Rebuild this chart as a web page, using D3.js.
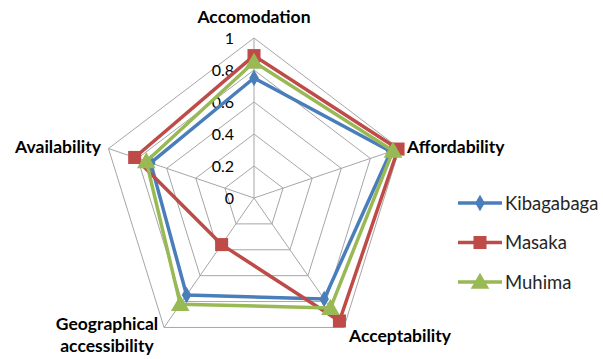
<!DOCTYPE html>
<html>
<head>
<meta charset="utf-8">
<script src="https://cdn.jsdelivr.net/npm/d3@7"></script>
<style>
  body { margin: 0; background: #fff; }
  svg text { font-family: Lato, "Open Sans", sans-serif; }
</style>
</head>
<body>
<svg width="603" height="359"></svg>
<script>
var axes = ["Accomodation", "Affordability", "Acceptability", "Geographical accessibility", "Availability"];
var seriesNames = ["Kibagabaga", "Masaka", "Muhima"];
var kibagabaga = [0.75, 0.94, 0.78, 0.75, 0.71];
var masaka = [0.89, 0.99, 0.95, 0.36, 0.82];
var muhima = [0.85, 0.955, 0.85, 0.82, 0.74];
var ticks = [0, 0.2, 0.4, 0.6, 0.8, 1];

var colors = ["#4a7ebb", "#be4b48", "#98b954"];
var shapes = [d3.symbolDiamond, d3.symbolSquare, d3.symbolTriangle];
var sizes = [80, 170, 150];

var svg = d3.select("svg"),
    cx = 254, cy = 198,
    rx = 153, ry = 160;

var r = d3.scaleLinear().domain([0, 1]).range([0, 1]);
var n = axes.length;

function pt(i, v) {
  var a = -Math.PI / 2 + i * 2 * Math.PI / n;
  return [cx + Math.cos(a) * rx * r(v), cy + Math.sin(a) * ry * r(v)];
}

var line = d3.line().curve(d3.curveLinearClosed);

// grid
var grid = svg.append("g");
ticks.slice(1).forEach(function(t) {
  grid.append("path")
    .attr("d", line(d3.range(n).map(function(i) { return pt(i, t); })))
    .attr("fill", "none")
    .attr("stroke", "#a6a6a6")
    .attr("stroke-width", 1);
});
d3.range(n).forEach(function(i) {
  var p = pt(i, 1);
  grid.append("line")
    .attr("x1", cx).attr("y1", cy)
    .attr("x2", p[0]).attr("y2", p[1])
    .attr("stroke", "#a6a6a6")
    .attr("stroke-width", 1);
});

// tick labels
svg.append("g").selectAll("text")
  .data(ticks)
  .join("text")
  .attr("x", 234)
  .attr("y", function(d) { return pt(0, d)[1] + 6; })
  .attr("text-anchor", "end")
  .attr("font-size", 16)
  .attr("fill", "#000")
  .text(function(d) { return d; });

// series
var all = [kibagabaga, masaka, muhima];
all.forEach(function(vals, s) {
  var pts = vals.map(function(v, i) { return pt(i, v); });
  var g = svg.append("g");
  g.append("path")
    .attr("d", line(pts))
    .attr("fill", "none")
    .attr("stroke", colors[s])
    .attr("stroke-width", 3.5)
    .attr("stroke-linejoin", "round");
  g.selectAll("path.m")
    .data(pts)
    .join("path")
    .attr("class", "m")
    .attr("transform", function(d) { return "translate(" + d[0] + "," + (d[1] + (s === 2 ? 1.5 : 0)) + ")"; })
    .attr("d", d3.symbol().type(shapes[s]).size(sizes[s]))
    .attr("fill", colors[s]);
});

// axis labels
var lab = svg.append("g")
  .attr("font-size", 17.5)
  .attr("font-weight", "bold")
  .attr("fill", "#000");
lab.append("text").attr("x", 254).attr("y", 23).attr("text-anchor", "middle").text(axes[0]);
lab.append("text").attr("x", 407).attr("y", 153).attr("text-anchor", "start").text(axes[1]);
lab.append("text").attr("x", 349).attr("y", 342).attr("text-anchor", "start").text(axes[2]);
lab.append("text").attr("x", 107).attr("y", 330).attr("text-anchor", "middle").text("Geographical");
lab.append("text").attr("x", 107).attr("y", 352).attr("text-anchor", "middle").text("accessibility");
lab.append("text").attr("x", 101).attr("y", 153).attr("text-anchor", "end").text(axes[4]);

// legend
var lg = svg.append("g").attr("transform", "translate(458,203)");
seriesNames.forEach(function(name, s) {
  var row = lg.append("g").attr("transform", "translate(0," + (s * 39.5) + ")");
  row.append("line")
    .attr("x1", 0).attr("x2", 44)
    .attr("stroke", colors[s]).attr("stroke-width", 3.5);
  row.append("path")
    .attr("transform", "translate(22," + (s === 2 ? 1.5 : 0) + ")")
    .attr("d", d3.symbol().type(shapes[s]).size(sizes[s]))
    .attr("fill", colors[s]);
  row.append("text")
    .attr("x", 47).attr("y", 6.5)
    .attr("font-size", 18.5)
    .attr("fill", "#262626")
    .text(name);
});
</script>
</body>
</html>
